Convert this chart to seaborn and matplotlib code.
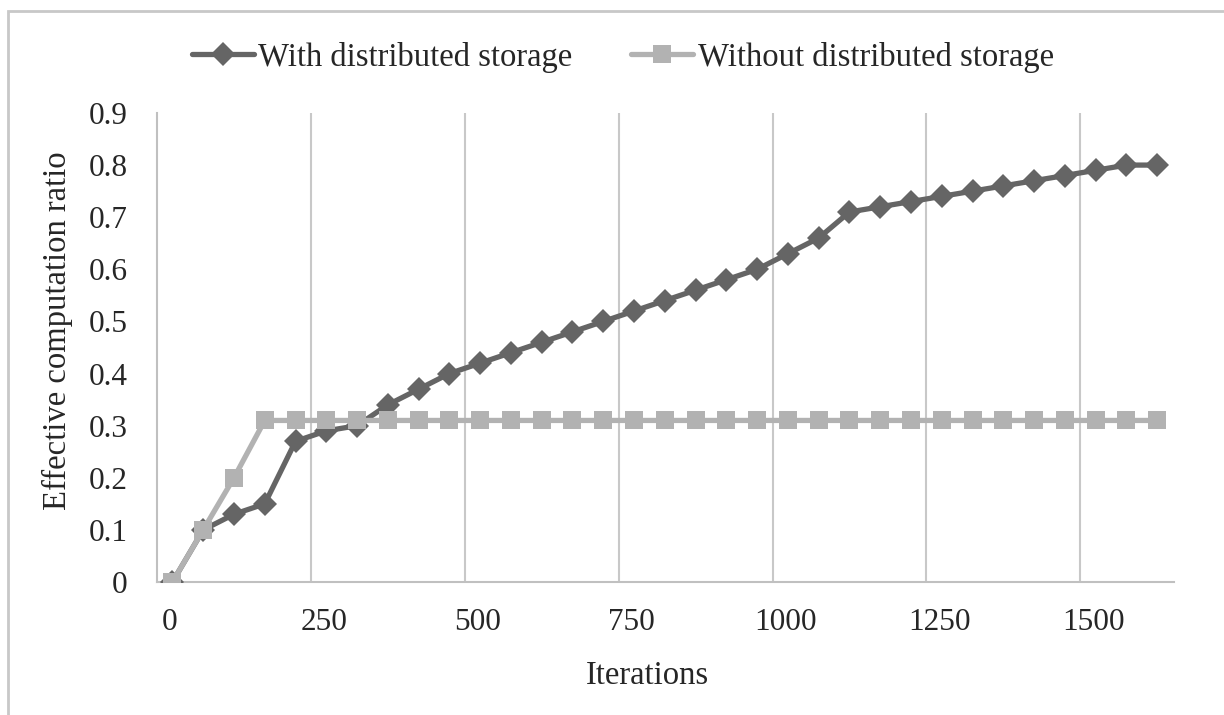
import numpy as np
import pandas as pd
import matplotlib
matplotlib.use("Agg")
import matplotlib.pyplot as plt
import matplotlib.transforms as mtransforms
import seaborn as sns
from matplotlib.patches import Rectangle

sns.set_style('white')
plt.rcParams['font.family'] = ['Liberation Serif', 'DejaVu Serif']

# Data
iterations = [25, 75, 125, 175, 225, 275, 325, 375, 425, 475, 525, 575, 625,
              675, 725, 775, 825, 875, 925, 975, 1025, 1075, 1125, 1175, 1225,
              1275, 1325, 1375, 1425, 1475, 1525, 1575, 1625]
with_storage = [0, 0.10, 0.13, 0.15, 0.27, 0.29, 0.30, 0.34, 0.37, 0.40, 0.42,
                0.44, 0.46, 0.48, 0.50, 0.52, 0.54, 0.56, 0.58, 0.60, 0.63,
                0.66, 0.71, 0.72, 0.73, 0.74, 0.75, 0.76, 0.77, 0.78, 0.79,
                0.80, 0.80]
without_storage = [0, 0.10, 0.20, 0.31, 0.31, 0.31, 0.31, 0.31, 0.31, 0.31,
                   0.31, 0.31, 0.31, 0.31, 0.31, 0.31, 0.31, 0.31, 0.31, 0.31,
                   0.31, 0.31, 0.31, 0.31, 0.31, 0.31, 0.31, 0.31, 0.31, 0.31,
                   0.31, 0.31, 0.31]
series_names = ['With distributed storage', 'Without distributed storage']
x_ticks = [0, 250, 500, 750, 1000, 1250, 1500]
y_ticks = [0, 0.1, 0.2, 0.3, 0.4, 0.5, 0.6, 0.7, 0.8, 0.9]

df = pd.concat([
    pd.DataFrame({'Iterations': iterations, 'ratio': with_storage, 'series': series_names[0]}),
    pd.DataFrame({'Iterations': iterations, 'ratio': without_storage, 'series': series_names[1]}),
])

dark = '#656565'
light = '#b2b2b2'

fig = plt.figure(figsize=(12.24, 7.15), dpi=100)
ax = fig.add_axes([0.1283, 0.186, 0.8307, 0.656])

# gridlines (vertical only)
for xt in x_ticks[1:]:
    ax.axvline(xt, color='#c8c8c8', lw=1.5, zorder=0)

# the light series sits on top of the dark one in the original
sns.lineplot(data=df[df.series == series_names[0]], x='Iterations', y='ratio',
             color=dark, lw=3.8, marker='D', markersize=12, markeredgewidth=0,
             ax=ax, label=series_names[0], zorder=3)
sns.lineplot(data=df[df.series == series_names[1]], x='Iterations', y='ratio',
             color=light, lw=3.8, marker='s', markersize=13, markeredgewidth=0,
             ax=ax, label=series_names[1], zorder=4)

ax.set_xlim(0, 1652)
ax.set_ylim(0, 0.9)
ax.set_xticks(x_ticks)
ax.set_yticks(y_ticks)
ax.set_yticklabels(['0'] + ['%.1f' % v for v in y_ticks[1:]])
ax.tick_params(axis='both', length=0, labelsize=22.5)
ax.tick_params(axis='x', pad=19)
ax.tick_params(axis='y', pad=21)

# x tick labels sit a little right of their gridlines
shift = mtransforms.ScaledTranslation(13 / 100, 0, fig.dpi_scale_trans)
for lbl in ax.get_xticklabels():
    lbl.set_transform(lbl.get_transform() + shift)

for side in ['top', 'right']:
    ax.spines[side].set_visible(False)
for side in ['left', 'bottom']:
    ax.spines[side].set_color('#c0c0c0')
    ax.spines[side].set_linewidth(1.5)

ax.set_xlabel('Iterations', fontsize=23.5)
ax.set_ylabel('Effective computation ratio', fontsize=23.5)
ax.xaxis.set_label_coords(0.482, -0.168)
ax.yaxis.set_label_coords(-0.083, 0.535)

handles, labels = ax.get_legend_handles_labels()
ax.get_legend().remove()
fig.legend(handles, labels,
           loc='center', bbox_to_anchor=(0.509, 0.92), ncol=2, frameon=False,
           fontsize=23.5, handlelength=1.9, handletextpad=0.15, columnspacing=1.8)

# outer chart border
fig.patches.append(Rectangle((8 / 1224, -0.05), 1.2, 1 - 11 / 715 + 0.05,
                             transform=fig.transFigure, fill=False,
                             edgecolor='#c8c8c8', lw=2))

fig.savefig('out.png', dpi=100)
